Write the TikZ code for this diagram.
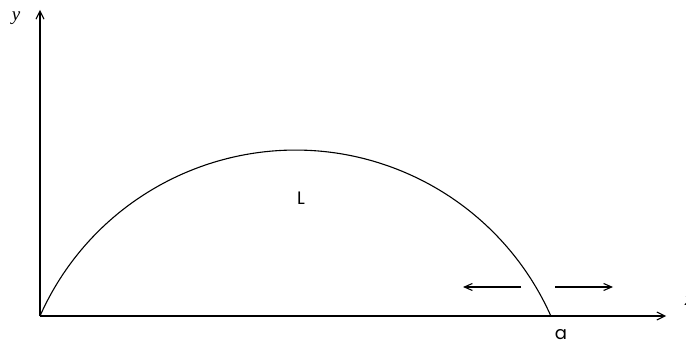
\documentclass[tikz,border=0pt]{standalone}
\usepackage{fontspec}
\newfontfamily\labelfont{Poppins}
\newfontfamily\varfont{Liberation Serif}
\usetikzlibrary{arrows.meta,positioning}
\tikzset{
  axis/.style={-{Straight Barb[length=8pt,width=8pt]}, line width=1.1pt},
  move/.style={-{Straight Barb[length=8pt,width=7pt]}, line width=1.1pt},
  curve/.style={line width=1.1pt},
  varlabel/.style={font=\varfont\itshape\fontsize{19}{19}\selectfont, inner sep=0pt},
  sublabel/.style={font=\labelfont\fontsize{18}{18}\selectfont, inner sep=0pt}
}
\begin{document}
\begin{tikzpicture}[x=1pt,y=1pt]
  \useasboundingbox (0,0) rectangle (686,346);

  \coordinate (origin) at (40,30);
  \coordinate (xend) at (666,30);
  \coordinate (yend) at (40,336);
  \coordinate (aend) at (551,30);

  \draw[axis] (origin) -- (xend);
  \draw[axis] (origin) -- (yend);
  \node[varlabel] (ylab) at (16,328) {y};
  \node[varlabel] (xlab) at (689,45) {x};

  % circular arc through the origin, the top and a
  \draw[curve] (origin) arc[start angle=156, end angle=24, radius=279.6];

  \node[sublabel] (L) at (301,148) {L};
  \node[sublabel] (a) at (561,11) {a};

  \coordinate (lstart) at (521,59);
  \coordinate (lend) at (463,59);
  \coordinate (rstart) at (555,59);
  \coordinate (rend) at (613,59);
  \draw[move] (lstart) -- (lend);
  \draw[move] (rstart) -- (rend);
\end{tikzpicture}
\end{document}
